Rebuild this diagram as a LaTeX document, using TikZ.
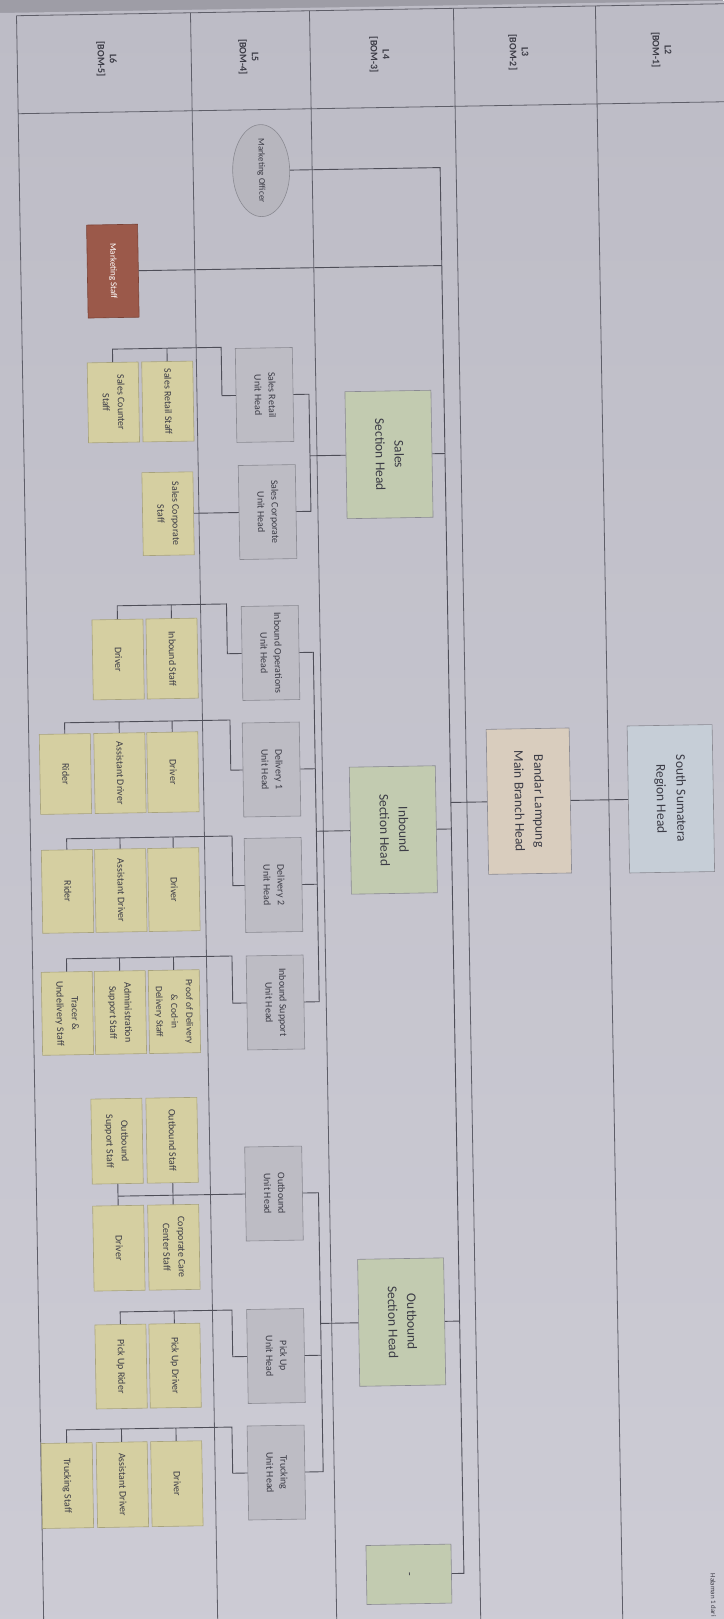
\documentclass[tikz,border=0pt]{standalone}
\usepackage{fontspec}
\setmainfont{Carlito}
\usepackage{graphicx}
\usetikzlibrary{calc,shapes.geometric}
\definecolor{outerc}{HTML}{9E9DA6}
\definecolor{bgtop}{HTML}{BDBCC6}
\definecolor{bgbot}{HTML}{CDCCD5}
\definecolor{linec}{HTML}{4E4E58}
\definecolor{gridc}{HTML}{5E5E68}
\definecolor{bordc}{HTML}{8A8A92}
\definecolor{txt}{HTML}{3C3C46}
\definecolor{regionc}{HTML}{C6CED7}
\definecolor{branchc}{HTML}{D9CDBE}
\definecolor{sectc}{HTML}{C2CBB0}
\definecolor{unitc}{HTML}{BDBCC4}
\definecolor{staffc}{HTML}{D5CFA1}
\definecolor{staffb}{HTML}{A8A37C}
\definecolor{brownc}{HTML}{9B594A}
\definecolor{brownb}{HTML}{7A4236}
\definecolor{ellc}{HTML}{B7B6BE}
\newcommand\vt[1]{\rotatebox{-90}{\begin{tabular}{@{}c@{}}#1\end{tabular}}}
\tikzset{
  ln/.style={draw=linec, line width=0.9pt},
  gridline/.style={draw=gridc, line width=0.8pt},
  bx/.style={draw=#1, line width=0.6pt, inner sep=0pt, text=txt},
  regionbox/.style={bx=bordc, fill=regionc, minimum width=85pt, minimum height=147pt, font=\fontsize{13.5}{20}\selectfont},
  branchbox/.style={bx=bordc, fill=branchc, minimum width=83pt, minimum height=145pt, font=\fontsize{13.5}{20}\selectfont},
  sectionbox/.style={bx=bordc, fill=sectc, minimum width=86pt, minimum height=127pt, font=\fontsize{13.5}{19}\selectfont},
  dashbox/.style={bx=bordc, fill=sectc, minimum width=85pt, minimum height=59pt, font=\fontsize{12}{14}\selectfont},
  unitbox/.style={bx=bordc, fill=unitc, minimum width=57pt, minimum height=94pt, font=\fontsize{10}{14}\selectfont},
  staffbox/.style={bx=staffb, fill=staffc, minimum width=51pt, minimum height=83pt, font=\fontsize{10}{15}\selectfont},
  tallstaff/.style={staffbox, minimum height=85pt},
  brownbox/.style={draw=brownb, line width=0.6pt, fill=brownc, inner sep=0pt, text=white, minimum width=51pt, minimum height=93pt, font=\fontsize{9}{11}\selectfont},
  ellbox/.style={ellipse, draw=bordc, line width=0.6pt, fill=ellc, inner sep=0pt, text=txt, minimum width=57pt, minimum height=92pt, font=\fontsize{9}{11}\selectfont},
  hdr/.style={inner sep=0pt, text=txt, font=\bfseries\fontsize{10}{12}\selectfont},
}
\begin{document}
\begin{tikzpicture}[x=1pt,y=-1pt]
\fill[outerc] (0,0) rectangle (723,1619);
\useasboundingbox (0,0) rectangle (723,1619);
\begin{scope}[rotate around={0.97:(361,810)}, transform shape]
\shade[top color=bgtop, bottom color=bgbot] (-30,7) rectangle (780,1660);
% table grid
\draw[gridline] (30,10) -- (780,10);
\draw[gridline] (30,108) -- (780,108);
\foreach \u in {30,204,323,467,609} \draw[gridline] (\u,10) -- (\u,1660);
% headers
\node[hdr] (h6) at (119,55) {\vt{L6\\{[BOM-5]}}};
\node[hdr] (h5) at (261,55) {\vt{L5\\{[BOM-4]}}};
\node[hdr] (h4) at (392,55) {\vt{L4\\{[BOM-3]}}};
\node[hdr] (h3) at (531,55) {\vt{L3\\{[BOM-2]}}};
\node[hdr] (h2) at (674,55) {\vt{L2\\{[BOM-1]}}};
% top levels
\node[regionbox] (reg) at (671,804) {\vt{South Sumatera\\Region Head}};
\node[branchbox] (br) at (529,804) {\vt{Bandar Lampung\\Main Branch Head}};
\node[sectionbox] (sal) at (395,455) {\vt{Sales\\Section Head}};
\node[sectionbox] (inb) at (393,830.5) {\vt{Inbound\\Section Head}};
\node[sectionbox] (outb) at (393,1322.7) {\vt{Outbound\\Section Head}};
\node[dashbox] (dash) at (396,1575) {\vt{-}};
\node[ellbox] (mo) at (272,169) {\vt{Marketing Officer}};
\node[brownbox] (bw) at (122,267) {\vt{Marketing Staff}};
% trunk
\coordinate (tT) at (451,169);
\coordinate (tB) at (451,1575);
\draw[ln] (reg.west) -- (br.east);
\draw[ln] (mo.east) -- (tT) -- (tB) -- (dash.east);
\draw[ln] (br.west) -- (br.west -| tT);
\draw[ln] (bw.east) -- (bw.east -| tT);
\draw[ln] (sal.east) -- (sal.east -| tT);
\draw[ln] (inb.east) -- (inb.east -| tT);
\draw[ln] (outb.east) -- (outb.east -| tT);
% unit heads
\node[unitbox] (srh) at (271.6,393.4) {\vt{Sales Retail\\Unit Head}};
\node[unitbox] (sch) at (272.6,510.5) {\vt{Sales Corporate\\Unit Head}};
\node[unitbox] (ioh) at (273.2,651.5) {\vt{Inbound Operations\\Unit Head}};
\node[unitbox] (d1h) at (272.2,768) {\vt{Delivery 1\\Unit Head}};
\node[unitbox] (d2h) at (272.2,883.5) {\vt{Delivery 2\\Unit Head}};
\node[unitbox] (ish) at (272.2,1001) {\vt{Inbound Support\\Unit Head}};
\node[unitbox] (oh) at (267.5,1192) {\vt{Outbound\\Unit Head}};
\node[unitbox] (puh) at (266.7,1354.5) {\vt{Pick Up\\Unit Head}};
\node[unitbox] (th) at (265.2,1471) {\vt{Trucking\\Unit Head}};
% sub-trunks
\coordinate (sT) at (316,0);
\draw[ln] (srh.east) -- (srh.east -| sT) -- (sch.east -| sT) -- (sch.east);
\draw[ln] (sal.west) -- (sal.west -| sT);
\draw[ln] (ioh.east) -- (ioh.east -| sT) -- (ish.east -| sT) -- (ish.east);
\draw[ln] (d1h.east) -- (d1h.east -| sT);
\draw[ln] (d2h.east) -- (d2h.east -| sT);
\draw[ln] (inb.west) -- (inb.west -| sT);
\coordinate (oT) at (312,0);
\draw[ln] (oh.east) -- (oh.east -| oT) -- (th.east -| oT) -- (th.east);
\draw[ln] (puh.east) -- (puh.east -| oT);
\draw[ln] (outb.west) -- (outb.west -| oT);
% Sales Retail staff
\node[staffbox, minimum height=80pt] (rs1) at (174.8,398.3) {\vt{Sales Retail Staff}};
\node[staffbox, minimum height=80pt] (rs2) at (120.3,398.3) {\vt{Sales Counter\\Staff}};
\coordinate (bSR) at (229,345);
\draw[ln] (srh.west) -| (bSR) -- (bSR -| rs2.north) -- (rs2.north);
\draw[ln] (rs1.north) -- (rs1.north |- bSR);
% Sales Corporate staff
\node[staffbox] (rc1) at (173.1,510.5) {\vt{Sales Corporate\\Staff}};
\draw[ln] (sch.west) -- (rc1.east);
% Inbound Operations staff
\node[staffbox, minimum height=80pt] (is1) at (174.7,655.4) {\vt{Inbound Staff}};
\node[staffbox, minimum height=80pt] (is2) at (120.7,655.4) {\vt{Driver}};
\coordinate (bIO) at (230,601.7);
\draw[ln] (ioh.west) -| (bIO) -- (bIO -| is2.north) -- (is2.north);
\draw[ln] (is1.north) -- (is1.north |- bIO);
% Delivery 1 staff
\node[staffbox, minimum height=80pt] (d1a) at (173.6,769) {\vt{Driver}};
\node[staffbox, minimum height=80pt] (d1b) at (120.6,769) {\vt{Assistant Driver}};
\node[staffbox, minimum height=80pt] (d1c) at (66.1,769) {\vt{Rider}};
\coordinate (bD1) at (231.5,717.8);
\draw[ln] (d1h.west) -| (bD1) -- (bD1 -| d1c.north) -- (d1c.north);
\draw[ln] (d1a.north) -- (d1a.north |- bD1);
\draw[ln] (d1b.north) -- (d1b.north |- bD1);
% Delivery 2 staff
\node[staffbox] (d2a) at (172.6,886.4) {\vt{Driver}};
\node[staffbox] (d2b) at (119.5,886.4) {\vt{Assistant Driver}};
\node[staffbox] (d2c) at (66.2,886.4) {\vt{Rider}};
\coordinate (bD2) at (231.6,833.8);
\draw[ln] (d2h.west) -| (bD2) -- (bD2 -| d2c.north) -- (d2c.north);
\draw[ln] (d2a.north) -- (d2a.north |- bD2);
\draw[ln] (d2b.north) -- (d2b.north |- bD2);
% Inbound Support staff
\node[staffbox, font=\fontsize{9.5}{15}\selectfont] (s1) at (171,1008.4) {\vt{Proof of Delivery\\\& Cod-in\\Delivery Staff}};
\node[staffbox] (s2) at (117,1008.4) {\vt{Administration\\Support Staff}};
\node[staffbox] (s3) at (64,1008.4) {\vt{Tracer \&\\Undelivery Staff}};
\coordinate (bIS) at (229.5,953.8);
\draw[ln] (ish.west) -| (bIS) -- (bIS -| s3.north) -- (s3.north);
\draw[ln] (s1.north) -- (s1.north |- bIS);
\draw[ln] (s2.north) -- (s2.north |- bIS);
% Outbound staff
\node[tallstaff] (o1) at (166.5,1137) {\vt{Outbound Staff}};
\node[tallstaff] (o2) at (111.5,1137) {\vt{Outbound\\Support Staff}};
\node[tallstaff] (o3) at (166.5,1244) {\vt{Corporate Care\\Center Staff}};
\node[tallstaff] (o4) at (111.5,1244) {\vt{Driver}};
\draw[ln] (oh.west) -- (oh.west -| o2.south);
\draw[ln] (o1.south) -- (o3.north);
\draw[ln] (o2.south) -- (o4.north);
% Pick Up staff
\node[staffbox, minimum height=84pt] (p1) at (165.7,1362.4) {\vt{Pick Up Driver}};
\node[staffbox, minimum height=84pt] (p2) at (111.7,1362.4) {\vt{Pick Up Rider}};
\coordinate (bPU) at (223.5,1307.8);
\draw[ln] (puh.west) -| (bPU) -- (bPU -| p2.north) -- (p2.north);
\draw[ln] (p1.north) -- (p1.north |- bPU);
% Trucking staff
\node[tallstaff] (t1) at (165.5,1480.5) {\vt{Driver}};
\node[tallstaff] (t2) at (111,1480.5) {\vt{Assistant Driver}};
\node[tallstaff] (t3) at (56,1480.5) {\vt{Trucking Staff}};
\coordinate (bTR) at (221.5,1424.8);
\draw[ln] (th.west) -| (bTR) -- (bTR -| t3.north) -- (t3.north);
\draw[ln] (t1.north) -- (t1.north |- bTR);
\draw[ln] (t2.north) -- (t2.north |- bTR);
% footer
\node[inner sep=0pt, text=txt, font=\fontsize{7}{8}\selectfont] (hal) at (700,1601) {\rotatebox{-90}{Halaman 1 dari}};
\end{scope}
\end{tikzpicture}
\end{document}
